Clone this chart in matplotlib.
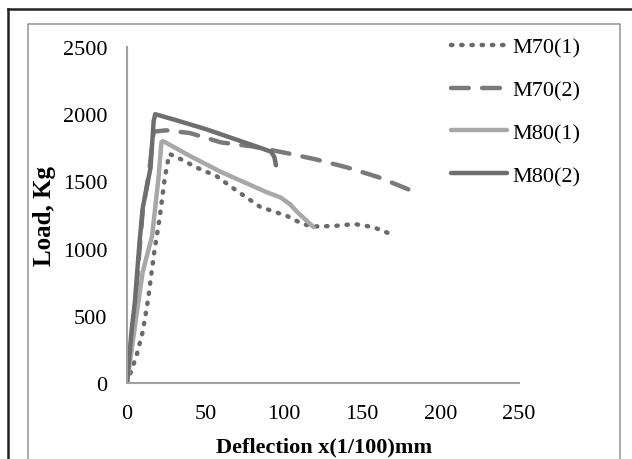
""" Load-deflection curves for M70 / M80 beams. """
import matplotlib
matplotlib.use("Agg")
import matplotlib.pyplot as plt
from matplotlib.lines import Line2D

# data
m70_1_x = [0, 6, 10, 13.5, 17, 21, 24, 25.5, 27, 34, 45, 57, 70, 85, 102, 112, 119, 132, 145, 157, 168]
m70_1_y = [0, 200, 380, 625, 945, 1243, 1518, 1615, 1705, 1667, 1600, 1540, 1430, 1310, 1243, 1183, 1165, 1168, 1183, 1160, 1109]

m70_2_x = [0, 5, 10, 14, 17, 25, 40, 60, 80, 100, 120, 140, 160, 187]
m70_2_y = [0, 560, 1280, 1560, 1870, 1880, 1860, 1790, 1760, 1715, 1665, 1605, 1533, 1405]

m80_1_x = [0, 3, 10, 16, 20, 22, 23, 40, 60, 89, 98, 104, 108.6, 119]
m80_1_y = [0, 253, 826, 1094, 1518, 1793, 1800, 1690, 1570, 1420, 1380, 1330, 1272, 1160]

m80_2_x = [0, 3, 5, 8, 10, 13, 15, 17, 18, 30, 50, 70, 85, 92, 94, 95]
m80_2_y = [0, 400, 600, 1050, 1300, 1480, 1600, 1950, 2000, 1960, 1890, 1810, 1750, 1720, 1680, 1620]

labels = ["M70(1)", "M70(2)", "M80(1)", "M80(2)"]
x_ticks = [0, 50, 100, 150, 200, 250]
y_ticks = [0, 500, 1000, 1500, 2000, 2500]

plt.rcParams["font.family"] = ["Liberation Serif", "DejaVu Serif"]

fig = plt.figure(figsize=(6.32, 4.60), dpi=100)
W, H = 632.0, 460.0

# outer black frame and inner gray frame
fig.add_artist(Line2D([8 / W, 8 / W], [0, 1 - 10 / H], color="#222222", lw=1.8))
fig.add_artist(Line2D([8 / W, 1], [1 - 10 / H, 1 - 10 / H], color="#222222", lw=1.8))
fig.add_artist(Line2D([28 / W, 28 / W, 620 / W, 620 / W],
                      [0, 1 - 25 / H, 1 - 25 / H, 0], color="#9a9a9a", lw=1.2))

ax = fig.add_axes([127 / W, 1 - 384 / H, (519 - 127) / W, (384 - 48) / H])

ax.plot(m70_1_x, m70_1_y, color="#6a6a6a", lw=3.2, linestyle=(0, (0.3, 2.0)),
        dash_capstyle="round", label=labels[0])
ax.plot(m70_2_x, m70_2_y, color="#7a7a7a", lw=3.2, linestyle=(0, (4, 3)),
        dash_capstyle="round", label=labels[1])
ax.plot(m80_1_x, m80_1_y, color="#a8a8a8", lw=3.2, solid_capstyle="round", label=labels[2])
ax.plot(m80_2_x, m80_2_y, color="#6e6e6e", lw=3.2, solid_capstyle="round", label=labels[3])

ax.set_xlim(0, 250)
ax.set_ylim(0, 2500)
ax.set_xticks(x_ticks)
ax.set_yticks(y_ticks)
ax.tick_params(length=0, labelsize=16)
ax.tick_params(axis="y", pad=14)
ax.tick_params(axis="x", pad=15)

for s in ["top", "right"]:
    ax.spines[s].set_visible(False)
for s in ["left", "bottom"]:
    ax.spines[s].set_color("#a0a0a0")
    ax.spines[s].set_linewidth(1.5)

fig.text(45 / W, 1 - 216 / H, "Load, Kg", rotation=90, fontsize=18,
         fontweight="bold", ha="center", va="center")
fig.text(324 / W, 1 - 447 / H, "Deflection x(1/100)mm", fontsize=16,
         fontweight="bold", ha="center", va="center")

ax.legend(loc="upper left", bbox_to_anchor=(440 / W, 1 - 27 / H),
          bbox_transform=fig.transFigure, frameon=False, fontsize=16,
          handlelength=2.5, handletextpad=0.25, labelspacing=1.0, borderpad=0)

fig.savefig("out.png", dpi=100)
